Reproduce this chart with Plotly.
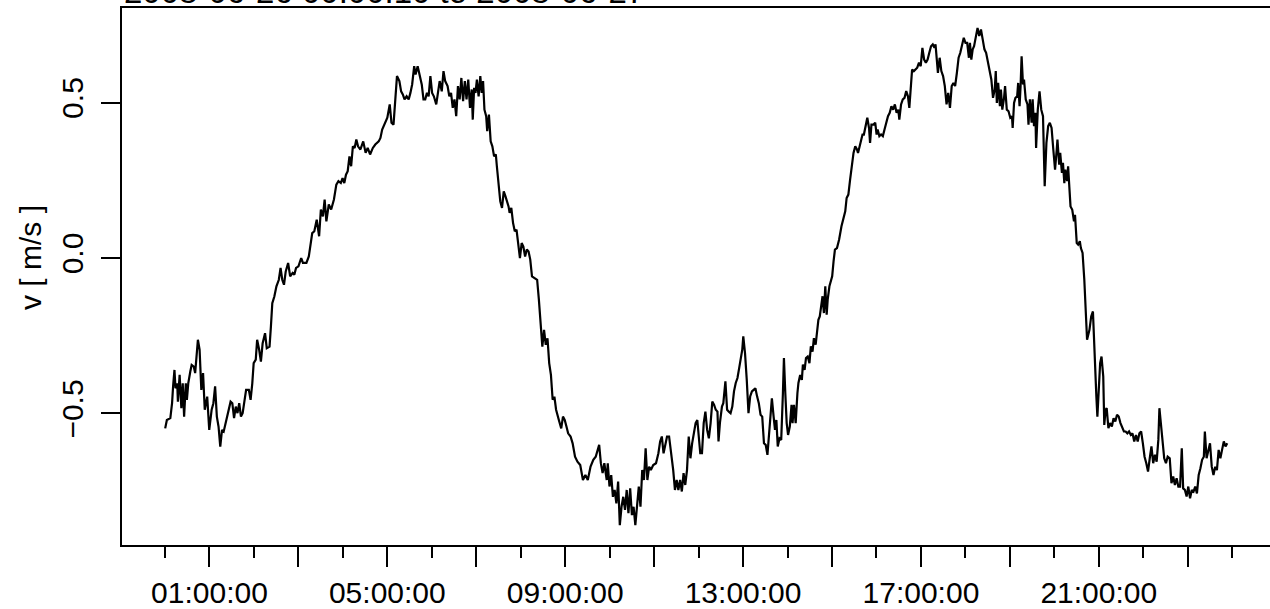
import plotly.graph_objects as go

# time in hours after 00:00 UTC, velocity in m/s
hours_a = [0.004,0.042,0.120,0.159,0.182,0.213,0.236,0.275,0.290,0.329,0.368,0.399,0.430,0.468,0.492,0.523,0.569,0.600,0.647,0.678,0.740,0.778,0.817,0.856,0.894,0.949,0.995,1.049,1.088,1.127,1.166,1.204,1.243,1.282,1.320,1.359,1.398,1.437,1.475,1.514,1.553,1.592,1.630,1.669,1.708,1.746,1.785,1.824,1.886,1.925,1.963,1.994,2.041,2.072,2.118,2.157,2.196,2.250,2.289,2.351,2.382,2.413,2.459,2.506,2.560,2.599,2.637,2.676,2.715,2.769,2.815,2.870,2.908,2.947,3.001,3.063,3.102,3.180,3.234,3.272,3.311,3.358,3.412,3.466,3.505,3.551,3.590,3.629,3.683,3.737,3.799,3.853,3.900,3.954,3.993,4.032,4.070,4.109,4.148,4.186,4.225,4.264,4.303,4.341,4.395,4.458,4.512,4.558,4.612,4.674,4.729,4.806,4.845,4.884,4.938,5.000,5.054,5.093,5.139,5.170,5.217,5.271,5.310,5.348,5.387,5.434,5.480,5.519,5.558,5.604,5.635,5.682,5.728,5.774,5.813,5.852,5.891,5.929,5.968,6.007,6.046,6.100,6.138,6.177,6.224,6.263,6.301,6.355,6.394,6.433,6.471,6.510,6.549,6.588,6.627,6.665,6.704,6.743,6.781,6.820,6.859,6.898,6.921,6.952,6.983,7.014,7.053,7.091,7.122,7.153,7.184,7.223,7.246,7.285,7.324,7.362,7.401,7.440,7.463,7.494,7.540,7.579,7.618,7.657,7.696,7.726,7.750,7.788,7.827,7.866,7.905,7.943,7.982,8.021,8.059,8.098,8.137,8.176,8.214,8.253,8.331,8.369,8.408,8.447,8.486,8.524,8.563,8.602,8.640,8.679,8.718,8.757,8.795,8.857,8.911,8.950,8.989,9.028,9.066,9.121,9.167,9.221,9.276,9.338,9.399,9.454,9.508,9.570,9.632,9.686,9.725,9.764,9.802,9.841,9.880,9.934,9.957,9.996,10.035,10.073,10.112,10.151,10.190,10.228,10.267,10.306,10.345,10.383,10.422,10.461,10.500,10.538,10.577,10.616,10.655,10.693,10.732,10.771,10.809,10.848,10.887,10.926,10.980,11.042,11.096,11.135,11.173,11.212,11.251,11.290,11.336,11.375,11.429,11.468,11.507,11.545,11.584,11.623,11.662,11.700,11.739,11.778,11.816,11.855,11.894,11.933,11.971]
vel_a = [-0.548,-0.521,-0.515,-0.467,-0.413,-0.360,-0.419,-0.403,-0.462,-0.376,-0.483,-0.403,-0.510,-0.403,-0.456,-0.403,-0.365,-0.344,-0.349,-0.370,-0.263,-0.295,-0.424,-0.370,-0.488,-0.446,-0.553,-0.488,-0.467,-0.413,-0.510,-0.542,-0.607,-0.553,-0.558,-0.531,-0.510,-0.488,-0.462,-0.467,-0.515,-0.478,-0.499,-0.467,-0.510,-0.499,-0.467,-0.424,-0.424,-0.456,-0.403,-0.338,-0.327,-0.263,-0.295,-0.333,-0.274,-0.242,-0.290,-0.285,-0.220,-0.145,-0.124,-0.091,-0.070,-0.032,-0.070,-0.086,-0.043,-0.016,-0.059,-0.048,-0.054,-0.032,-0.027,0.000,-0.016,-0.016,0.005,0.048,0.080,0.086,0.123,0.070,0.156,0.134,0.188,0.118,0.172,0.156,0.188,0.236,0.247,0.241,0.257,0.241,0.268,0.279,0.327,0.295,0.359,0.354,0.381,0.359,0.349,0.375,0.338,0.354,0.333,0.354,0.365,0.375,0.386,0.413,0.429,0.451,0.494,0.435,0.429,0.499,0.585,0.569,0.536,0.526,0.510,0.520,0.510,0.531,0.558,0.617,0.590,0.617,0.585,0.558,0.510,0.510,0.531,0.520,0.585,0.531,0.520,0.494,0.531,0.569,0.536,0.601,0.569,0.553,0.520,0.531,0.483,0.510,0.456,0.553,0.510,0.579,0.504,0.569,0.510,0.574,0.483,0.542,0.445,0.547,0.531,0.574,0.520,0.585,0.531,0.569,0.477,0.456,0.408,0.461,0.375,0.359,0.327,0.333,0.295,0.241,0.182,0.161,0.214,0.198,0.182,0.166,0.145,0.161,0.113,0.086,0.091,0.048,0.000,0.048,0.037,0.005,0.027,0.021,-0.005,-0.059,-0.065,-0.070,-0.134,-0.220,-0.285,-0.231,-0.279,-0.258,-0.338,-0.376,-0.456,-0.446,-0.488,-0.521,-0.548,-0.510,-0.521,-0.542,-0.564,-0.574,-0.596,-0.639,-0.655,-0.666,-0.714,-0.698,-0.714,-0.671,-0.649,-0.639,-0.617,-0.601,-0.660,-0.692,-0.660,-0.714,-0.660,-0.735,-0.698,-0.768,-0.746,-0.789,-0.719,-0.859,-0.800,-0.768,-0.810,-0.746,-0.821,-0.741,-0.827,-0.800,-0.859,-0.789,-0.735,-0.800,-0.682,-0.714,-0.612,-0.714,-0.671,-0.682,-0.666,-0.660,-0.628,-0.590,-0.574,-0.628,-0.596,-0.574,-0.574,-0.617,-0.682,-0.746,-0.714,-0.746,-0.714,-0.751,-0.692,-0.730,-0.682,-0.574,-0.644,-0.596,-0.564,-0.531,-0.521]

hours_b = [12.037,12.076,12.115,12.153,12.192,12.231,12.270,12.308,12.347,12.386,12.424,12.448,12.479,12.525,12.556,12.603,12.641,12.680,12.719,12.758,12.796,12.835,12.874,12.912,12.951,12.982,13.005,13.044,13.083,13.122,13.160,13.199,13.238,13.277,13.315,13.354,13.393,13.431,13.470,13.509,13.548,13.586,13.625,13.648,13.687,13.718,13.749,13.780,13.819,13.858,13.896,13.919,13.950,13.981,14.012,14.051,14.090,14.113,14.144,14.183,14.222,14.245,14.284,14.322,14.345,14.384,14.415,14.454,14.493,14.524,14.562,14.593,14.632,14.663,14.694,14.725,14.756,14.787,14.818,14.849,14.880,14.903,14.942,14.981,15.004,15.035,15.066,15.112,15.159,15.213,15.252,15.298,15.329,15.368,15.407,15.445,15.484,15.523,15.562,15.585,15.616,15.655,15.686,15.717,15.755,15.794,15.833,15.856,15.887,15.933,15.972,16.003,16.026,16.065,16.104,16.143,16.181,16.220,16.259,16.298,16.336,16.375,16.414,16.452,16.491,16.514,16.553,16.592,16.631,16.669,16.708,16.739,16.778,16.801,16.840,16.878,16.917,16.956,16.995,17.033,17.072,17.111,17.150,17.188,17.227,17.266,17.304,17.328,17.359,17.382,17.421,17.459,17.498,17.537,17.576,17.614,17.653,17.692,17.731,17.769,17.808,17.847,17.885,17.924,17.963,18.002,18.040,18.079,18.102,18.133,18.164,18.195,18.234,18.273,18.311,18.350,18.389,18.428,18.466,18.505,18.544,18.583,18.621,18.660,18.683,18.707,18.737,18.776,18.799,18.830,18.869,18.892,18.931,18.970,19.009,19.047,19.063,19.094,19.125,19.164,19.187,19.218,19.241,19.264,19.295,19.318,19.357,19.396,19.419,19.450,19.489,19.512,19.543,19.574,19.590,19.628,19.667,19.706,19.745,19.783,19.822,19.861,19.899,19.938,19.977,20.016,20.054,20.070,20.109,20.132,20.171,20.194,20.225,20.248,20.287,20.310,20.341,20.364,20.403,20.442,20.465,20.504,20.535,20.573,20.597,20.635,20.674,20.713,20.736,20.790,20.829,20.868,20.906,20.945,20.968,20.999,21.030,21.061,21.100,21.123,21.154,21.177,21.216,21.255,21.294,21.332,21.371,21.410,21.448,21.487,21.526,21.565,21.603,21.642,21.681,21.720,21.758,21.797,21.836,21.875,21.913,21.952,21.991,22.029,22.068,22.107,22.146,22.184,22.223,22.262,22.301,22.339,22.363,22.394,22.432,22.471,22.510,22.549,22.595,22.634,22.673,22.711,22.750,22.789,22.828,22.866,22.897,22.936,22.975,23.013,23.052,23.091,23.130,23.168,23.207,23.246,23.285,23.323,23.362,23.385,23.424,23.463,23.501,23.540,23.579,23.618,23.656,23.695,23.734,23.772,23.811,23.850,23.889]
vel_b = [-0.628,-0.628,-0.531,-0.494,-0.553,-0.580,-0.531,-0.462,-0.472,-0.488,-0.494,-0.590,-0.531,-0.478,-0.467,-0.397,-0.488,-0.494,-0.499,-0.478,-0.429,-0.402,-0.386,-0.354,-0.322,-0.295,-0.252,-0.306,-0.392,-0.499,-0.445,-0.429,-0.424,-0.419,-0.445,-0.467,-0.504,-0.510,-0.596,-0.601,-0.633,-0.564,-0.510,-0.451,-0.510,-0.553,-0.521,-0.606,-0.580,-0.585,-0.435,-0.322,-0.435,-0.531,-0.569,-0.542,-0.472,-0.531,-0.472,-0.531,-0.435,-0.402,-0.376,-0.392,-0.343,-0.360,-0.322,-0.317,-0.338,-0.284,-0.301,-0.258,-0.279,-0.241,-0.199,-0.188,-0.145,-0.123,-0.177,-0.091,-0.182,-0.134,-0.091,-0.075,-0.059,-0.011,0.027,0.032,0.059,0.102,0.123,0.150,0.193,0.204,0.252,0.300,0.338,0.359,0.349,0.338,0.359,0.381,0.397,0.397,0.424,0.451,0.418,0.370,0.429,0.429,0.435,0.397,0.413,0.392,0.397,0.392,0.413,0.440,0.456,0.467,0.488,0.477,0.494,0.467,0.477,0.445,0.494,0.510,0.515,0.537,0.520,0.483,0.547,0.606,0.601,0.606,0.612,0.628,0.617,0.676,0.638,0.628,0.638,0.660,0.681,0.687,0.676,0.687,0.628,0.595,0.644,0.601,0.585,0.553,0.494,0.531,0.483,0.553,0.563,0.553,0.595,0.644,0.660,0.681,0.708,0.692,0.692,0.644,0.692,0.638,0.671,0.681,0.714,0.740,0.714,0.735,0.703,0.671,0.660,0.628,0.606,0.574,0.515,0.542,0.601,0.499,0.563,0.488,0.542,0.477,0.515,0.553,0.477,0.472,0.451,0.456,0.418,0.499,0.515,0.520,0.563,0.488,0.553,0.649,0.558,0.574,0.510,0.494,0.429,0.510,0.435,0.510,0.424,0.467,0.354,0.477,0.536,0.477,0.456,0.231,0.370,0.424,0.435,0.418,0.349,0.284,0.349,0.381,0.300,0.338,0.274,0.306,0.241,0.284,0.247,0.295,0.220,0.166,0.155,0.118,0.139,0.048,0.043,0.054,0.032,0.016,-0.070,-0.188,-0.263,-0.231,-0.188,-0.172,-0.327,-0.445,-0.510,-0.435,-0.338,-0.317,-0.381,-0.537,-0.488,-0.483,-0.547,-0.531,-0.542,-0.515,-0.526,-0.504,-0.510,-0.531,-0.542,-0.558,-0.558,-0.564,-0.558,-0.569,-0.564,-0.590,-0.569,-0.590,-0.564,-0.558,-0.596,-0.639,-0.660,-0.687,-0.644,-0.606,-0.660,-0.633,-0.655,-0.585,-0.483,-0.537,-0.596,-0.644,-0.660,-0.639,-0.644,-0.724,-0.703,-0.730,-0.708,-0.735,-0.735,-0.612,-0.741,-0.746,-0.767,-0.735,-0.773,-0.746,-0.751,-0.735,-0.757,-0.698,-0.676,-0.649,-0.639,-0.558,-0.644,-0.617,-0.596,-0.671,-0.698,-0.671,-0.682,-0.617,-0.644,-0.617,-0.590,-0.606,-0.596]

if len(hours_a) != len(vel_a) or len(hours_b) != len(vel_b):
    raise SystemExit(f"length mismatch: {len(hours_a)} {len(vel_a)} {len(hours_b)} {len(vel_b)}")

hours = hours_a + hours_b
velocity = vel_a + vel_b

major_tick_hours = [1, 3, 5, 7, 9, 11, 13, 15, 17, 19, 21, 23]
major_tick_labels = ["01:00:00", "", "05:00:00", "", "09:00:00", "", "13:00:00", "", "17:00:00", "", "21:00:00", ""]
minor_tick_hours = [0, 2, 4, 6, 8, 10, 12, 14, 16, 18, 20, 22, 24]
y_tick_values = [-0.5, 0.0, 0.5]
y_tick_labels = ["\u22120.5", "0.0", "0.5"]
title_text = "2008-06-26 00:00:10 to 2008-06-27"
y_label = "v [ m/s ]"

FONT = "Liberation Sans, Arial, Helvetica, sans-serif"
FS = 30

fig = go.Figure()
fig.add_trace(go.Scatter(x=hours, y=velocity, mode="lines",
                         line=dict(color="black", width=2.2), hoverinfo="skip"))

fig.update_layout(
    width=1270, height=609,
    margin=dict(l=122, r=0, t=8, b=64, pad=0, autoexpand=False),
    paper_bgcolor="white", plot_bgcolor="white",
    showlegend=False,
    font=dict(family=FONT, size=FS, color="black"),
)
fig.update_xaxes(
    range=[-0.967, 24.85], automargin=False,
    showgrid=False, zeroline=False,
    showline=True, mirror=True, linecolor="black", linewidth=2,
    tickmode="array", tickvals=major_tick_hours, ticktext=major_tick_labels,
    ticks="outside", ticklen=20, tickwidth=2, tickcolor="black",
    ticklabelstandoff=0,
    tickfont=dict(family=FONT, size=FS, color="black"),
    minor=dict(tickmode="array", tickvals=minor_tick_hours, ticks="outside",
               ticklen=11, tickwidth=2, tickcolor="black", showgrid=False),
)
fig.update_yaxes(
    range=[-0.923, 0.804], automargin=False,
    showgrid=False, zeroline=False,
    showline=True, mirror=False, linecolor="black", linewidth=2,
    tickmode="array", tickvals=y_tick_values, ticktext=y_tick_labels,
    ticks="outside", ticklen=19, tickwidth=2, tickcolor="black",
    tickangle=-90, ticklabelstandoff=6,
    tickfont=dict(family=FONT, size=FS, color="black"),
)
fig.add_annotation(
    text=title_text, xref="paper", yref="paper", x=0, y=1 + (8 - 12) / 537,
    xanchor="left", yanchor="bottom", showarrow=False,
    font=dict(family=FONT, size=33, color="black"),
)
fig.add_annotation(
    text=y_label, xref="paper", yref="y", x=(30 - 122) / 1148, y=0.0,
    xanchor="center", yanchor="middle", textangle=-90, showarrow=False,
    font=dict(family=FONT, size=FS, color="black"),
)

fig.write_html(
    "out.html",
    config={"displayModeBar": False},
    post_script="document.body.style.margin='0px';document.body.style.overflow='hidden';",
)
